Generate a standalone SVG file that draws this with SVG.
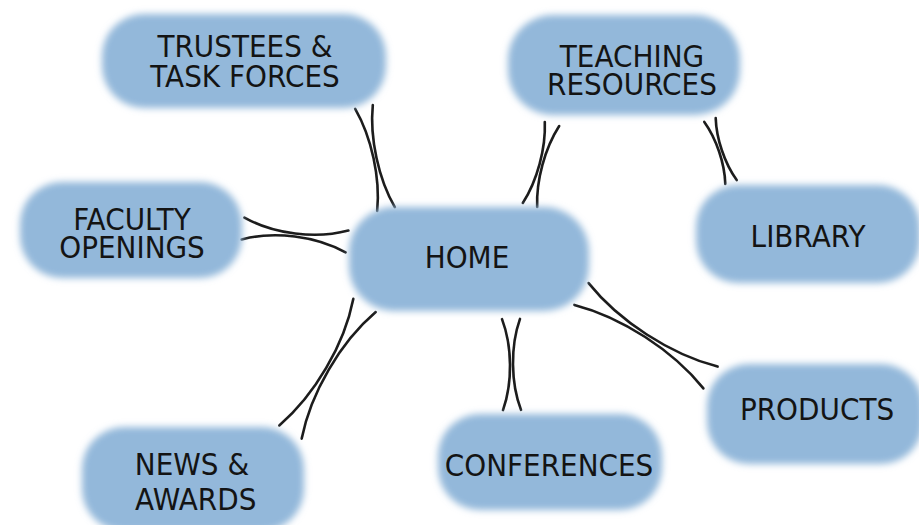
<svg xmlns="http://www.w3.org/2000/svg" width="919" height="525" viewBox="0 0 919 525">
<defs>
<filter id="soft" x="-20%" y="-30%" width="140%" height="160%"><feGaussianBlur stdDeviation="3.5"/></filter>
<filter id="ink" x="-20%" y="-20%" width="140%" height="140%"><feGaussianBlur stdDeviation="0.55"/></filter>
</defs>
<style>
.box{fill:#93b8da;filter:url(#soft)}
.lbl{font-family:"DejaVu Sans","Liberation Sans",sans-serif;font-size:30px;fill:#141414;text-anchor:middle}
.con path{fill:none;stroke:#1c1c1c;stroke-width:2.6;stroke-linecap:round}
</style>
<rect width="919" height="525" fill="#ffffff"/>
<g id="connectors" class="con" filter="url(#ink)">
<path d="M355.2,108.9 C371.6,137.4 380.4,178.2 377.2,210.9"/>
<path d="M372.8,105.1 C369.6,137.8 378.4,178.6 394.8,207.1"/>
<path d="M241.6,239.4 C274.4,230.7 316.0,235.9 345.6,252.4"/>
<path d="M244.4,217.6 C274.0,234.1 315.6,239.3 348.4,230.6"/>
<path d="M544.8,122.0 C545.9,148.4 537.1,180.8 522.8,203.0"/>
<path d="M559.2,126.0 C544.9,148.2 536.1,180.6 537.2,207.0"/>
<path d="M704.3,121.9 C716.3,138.6 724.7,163.4 725.3,183.9"/>
<path d="M715.7,118.1 C716.3,138.6 724.7,163.4 736.7,180.1"/>
<path d="M502,319.1 C512.3,346.3 512.7,382.7 503,410.1"/>
<path d="M520,318.9 C510.3,346.3 510.7,382.7 521,409.9"/>
<path d="M574.4,304.9 C621.5,317.1 673.1,350.5 703.4,388.4"/>
<path d="M588.6,283.1 C618.9,321.0 670.5,354.4 717.6,366.6"/>
<path d="M353.3,298.9 C344.3,344.6 314.7,395.2 279.3,425.4"/>
<path d="M375.7,312.1 C340.3,342.3 310.7,392.9 301.7,438.6"/>
</g>
<g id="trustees">
<rect class="box" x="102" y="14" width="284" height="94" rx="42"/>
<text class="lbl" transform="translate(245,57) scale(0.93,1)"><tspan x="0" y="0">TRUSTEES &amp;</tspan><tspan x="0" y="30">TASK FORCES</tspan></text>
</g>
<g id="teaching">
<rect class="box" x="508" y="15" width="232" height="100" rx="45"/>
<text class="lbl" transform="translate(632,67) scale(0.93,1)"><tspan x="0" y="0">TEACHING</tspan><tspan x="0" y="28">RESOURCES</tspan></text>
</g>
<g id="faculty">
<rect class="box" x="20" y="182" width="222" height="96" rx="42"/>
<text class="lbl" transform="translate(132,230) scale(0.93,1)"><tspan x="0" y="0">FACULTY</tspan><tspan x="0" y="28">OPENINGS</tspan></text>
</g>
<g id="home">
<rect class="box" x="349" y="207" width="240" height="104" rx="45"/>
<text class="lbl" transform="translate(467,268) scale(0.93,1)">HOME</text>
</g>
<g id="library">
<rect class="box" x="696" y="185" width="224" height="98" rx="42"/>
<text class="lbl" transform="translate(808,247) scale(0.93,1)">LIBRARY</text>
</g>
<g id="products">
<rect class="box" x="707" y="364" width="216" height="100" rx="42"/>
<text class="lbl" transform="translate(817,420) scale(0.93,1)">PRODUCTS</text>
</g>
<g id="conferences">
<rect class="box" x="438" y="414" width="224" height="96" rx="42"/>
<text class="lbl" transform="translate(549,476) scale(0.93,1)">CONFERENCES</text>
</g>
<g id="news">
<rect class="box" x="82" y="427" width="222" height="104" rx="42"/>
<text class="lbl" transform="translate(192,475) scale(0.93,1)"><tspan x="0" y="0">NEWS &amp;</tspan><tspan x="4" y="35">AWARDS</tspan></text>
</g>
</svg>
